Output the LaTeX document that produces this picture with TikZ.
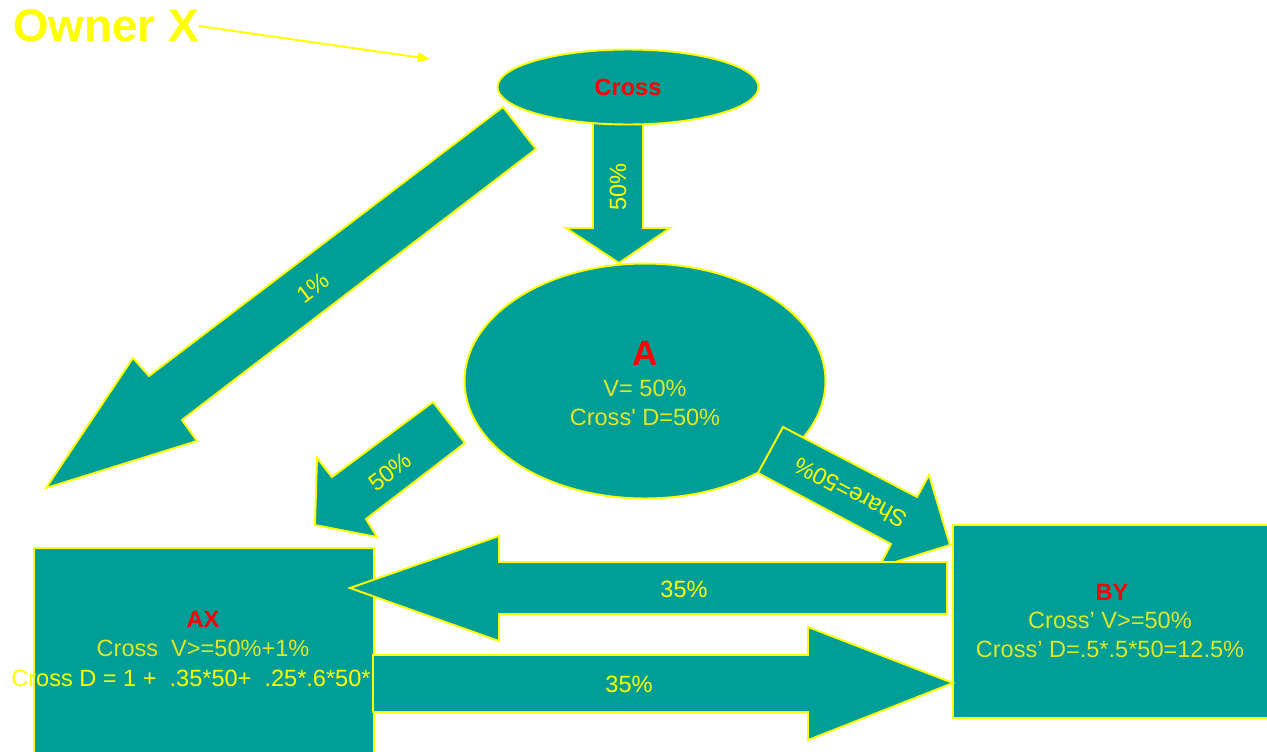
\documentclass[tikz,border=0pt]{standalone}
\usepackage{fontspec}
\setmainfont{Liberation Sans}
\usetikzlibrary{positioning,shapes.geometric,arrows.meta}
\definecolor{tealfill}{RGB}{0,158,150}
\definecolor{ylw}{RGB}{255,255,0}
\definecolor{ylwsoft}{RGB}{222,232,40}
\tikzset{font=\fontsize{13.4}{16.2}\selectfont}
\tikzset{
	blk/.style={fill=tealfill, draw=ylw, line width=1.1pt},
	ell/.style={ellipse, blk, inner sep=0pt},
	box/.style={rectangle, blk, inner sep=0pt},
	lbl/.style={text=ylw, inner sep=0pt},
	desc/.style={text=ylwsoft, inner sep=0pt, align=center},
	ttl/.style={text=red, inner sep=0pt, font=\fontsize{13.4}{16.2}\selectfont\bfseries},
}

\begin{document}
\begin{tikzpicture}[x=0.02cm, y=-0.02cm]
	\useasboundingbox (0,0) rectangle (1267,751);
	\clip (0,0) rectangle (1267,751);
	\begin{scope}
		% owner
		\node[lbl, anchor=west, font=\fontsize{26}{31}\selectfont\bfseries] (owner) at (13,26) {Owner X};
		\coordinate (ownertip) at (430,59);
		\draw [ylw, line width=1.1pt, -{Triangle[length=7pt,width=5.5pt]}] (owner.east) to (ownertip);

		% cross -> a
		\draw [blk] (593,115) -- (643,115) -- (643,228) -- (670,228) -- (619,263) -- (566,228) -- (593,228) -- cycle;
		\node[lbl, rotate=90] (pca) at (618,187) {50\%};
		\node[ell, minimum width=5.22cm, minimum height=1.5cm, text=red, font=\fontsize{13.4}{16.2}\selectfont\bfseries] (cross) at (628,87) {Cross};

		% a
		\node[ell, minimum width=7.22cm, minimum height=4.7cm] (a) at (645,381) {};
		\node[ttl, font=\fontsize{20}{24}\selectfont\bfseries] (atitle) at (645,353) {A};
		\node[desc] (atext) at (645,403) {V= 50\%\\Cross\textquotesingle{} D=50\%};

		% cross -> ax
		\draw [blk] (503,107) -- (536,149) -- (182,420) -- (197,441) -- (46,488) -- (133,358) -- (149,376) -- cycle;
		\node[lbl, rotate=37] (pcx) at (313,288) {1\%};

		% a -> ax
		\draw [blk] (433,402) -- (465,443) -- (366,519) -- (377,537) -- (315,525) -- (317,458) -- (332,477) -- cycle;
		\node[lbl, rotate=37] (pax) at (390,472) {50\%};

		% a -> by
		\draw [blk] (783,427) -- (917,497) -- (929,475) -- (950,545) -- (879,567) -- (891,544) -- (758,473) -- cycle;
		\node[lbl, rotate=152] (pay) at (850,493) {Share=50\%};

		% ax
		\node[box, minimum width=6.8cm, minimum height=4.4cm, anchor=north west] (ax) at (33,547) {};
		\node[ttl] (axtitle) at (203,619) {AX};
		\node[desc] (axv) at (203,648) {Cross\ \ V>=50\%+1\%};
		\node[lbl, anchor=west] (axd) at (11,678) {Cross D = 1 + \ .35*50+ \ .25*.6*50*.};

		% by
		\node[box, minimum width=6.6cm, minimum height=3.86cm, anchor=north west] (by) at (952,524) {};
		\node[ttl] (bytitle) at (1112,592) {BY};
		\node[desc] (bytext) at (1110,635) {Cross’ V>=50\%\\Cross’ D=.5*.5*50=12.5\%};

		% by -> ax, ax -> by
		\draw [blk] (350,588) -- (499,536) -- (499,562) -- (947,562) -- (947,614) -- (499,614) -- (499,641) -- cycle;
		\node[lbl] (pyx) at (684,589) {35\%};
		\draw [blk] (373,655) -- (808,655) -- (808,627) -- (953,683) -- (808,740) -- (808,712) -- (373,712) -- cycle;
		\node[lbl] (pxy) at (629,684) {35\%};
	\end{scope}
\end{tikzpicture}
\end{document}
